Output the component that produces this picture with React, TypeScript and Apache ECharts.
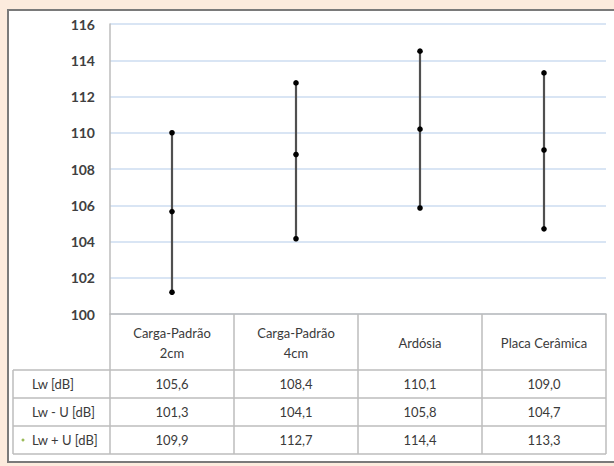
import React, { useEffect, useRef } from "react";
import * as echarts from "echarts";

const categories = ["Carga-Padrão\n2cm", "Carga-Padrão\n4cm", "Ardósia", "Placa Cerâmica"];
// plotted points
const lowPlot = [101.2, 104.15, 105.85, 104.7];
const midPlot = [105.65, 108.8, 110.2, 109.05];
const highPlot = [110.0, 112.75, 114.5, 113.3];
// data table
const rowLabels = ["Lw [dB]", "Lw - U [dB]", "Lw + U [dB]"];
const rowLw = ["105,6", "108,4", "110,1", "109,0"];
const rowLwMinusU = ["101,3", "104,1", "105,8", "104,7"];
const rowLwPlusU = ["109,9", "112,7", "114,4", "113,3"];
const yTicks = { min: 100, max: 116, interval: 2 };

const W = 614;
const H = 466;
const GRID_L = 110;
const GRID_R = 606;
const GRID_T = 24;
const GRID_B = 314;
const HEAD_B = 370;
const ROW_H = 28;
const TABLE_L = 13;
const FONT = "Lato, 'Open Sans', sans-serif";
const LINE = "#bcbcbc";
const TXT = "#3a3a3a";

export default function App() {
  const ref = useRef<HTMLDivElement>(null);
  useEffect(() => {
    if (!ref.current) return;
    const chart = echarts.init(ref.current, undefined, { renderer: "svg" });
    const band = (GRID_R - GRID_L) / categories.length;
    const rows = [rowLw, rowLwMinusU, rowLwPlusU];
    const graphics: any[] = [];
    // peach surroundings
    graphics.push({ type: "rect", shape: { x: 0, y: 0, width: W, height: 9 }, style: { fill: "#fcebdd" }, silent: true });
    graphics.push({ type: "rect", shape: { x: 0, y: 0, width: 7, height: H }, style: { fill: "#fcebdd" }, silent: true });
    graphics.push({ type: "rect", shape: { x: 0, y: 463, width: W, height: 3 }, style: { fill: "#fcebdd" }, silent: true });
    // frame
    graphics.push({ type: "line", shape: { x1: 8, y1: 10, x2: W, y2: 10 }, style: { stroke: "#7a7a7a", lineWidth: 2 }, silent: true });
    graphics.push({ type: "line", shape: { x1: 8, y1: 9, x2: 8, y2: 463 }, style: { stroke: "#7a7a7a", lineWidth: 2 }, silent: true });
    graphics.push({ type: "line", shape: { x1: 7, y1: 462, x2: W, y2: 462 }, style: { stroke: "#7a7a7a", lineWidth: 2 }, silent: true });
    // data table lines
    for (let r = 0; r <= rows.length; r++) {
      const y = HEAD_B + r * ROW_H;
      graphics.push({ type: "line", shape: { x1: TABLE_L, y1: y, x2: GRID_R, y2: y }, style: { stroke: LINE, lineWidth: 1.5 }, silent: true });
    }
    const xs = [TABLE_L];
    for (let c = 0; c <= categories.length; c++) xs.push(GRID_L + c * band);
    xs.forEach((x) => {
      graphics.push({ type: "line", shape: { x1: x, y1: HEAD_B, x2: x, y2: HEAD_B + rows.length * ROW_H }, style: { stroke: LINE, lineWidth: 1.5 }, silent: true });
    });
    rows.forEach((row, r) => {
      const cy = HEAD_B + r * ROW_H + ROW_H / 2;
      graphics.push({ type: "text", x: 32, y: cy, style: { text: rowLabels[r], font: `13px ${FONT}`, fill: TXT, textAlign: "left", textVerticalAlign: "middle" }, silent: true });
      row.forEach((v, c) => {
        graphics.push({ type: "text", x: GRID_L + (c + 0.5) * band, y: cy, style: { text: v, font: `13px ${FONT}`, fill: TXT, textAlign: "center", textVerticalAlign: "middle" }, silent: true });
      });
    });
    // legend key
    graphics.push({ type: "circle", shape: { cx: 23, cy: HEAD_B + 2.5 * ROW_H, r: 1.5 }, style: { fill: "#9bbb59" }, silent: true });

    const data = categories.map((_, i) => [i, lowPlot[i], midPlot[i], highPlot[i]]);

    chart.setOption({
      animation: false,
      backgroundColor: "#ffffff",
      grid: { left: GRID_L, right: W - GRID_R, top: GRID_T, bottom: H - GRID_B, containLabel: false },
      xAxis: {
        type: "category",
        data: categories,
        boundaryGap: true,
        axisLine: { show: true, lineStyle: { color: LINE, width: 1.5 } },
        axisTick: { show: true, interval: 0, length: HEAD_B - GRID_B, lineStyle: { color: LINE, width: 1.5 } },
        axisLabel: { interval: 0, margin: 29, verticalAlign: "middle", lineHeight: 20, fontSize: 13, fontFamily: FONT, color: TXT },
        splitLine: { show: false },
      },
      yAxis: {
        type: "value",
        min: yTicks.min,
        max: yTicks.max,
        interval: yTicks.interval,
        axisLine: { show: true, lineStyle: { color: LINE, width: 1.5 } },
        axisTick: { show: false },
        axisLabel: { margin: 15, fontSize: 14, fontFamily: FONT, color: "#404040", fontWeight: "bold" },
        splitLine: { show: true, lineStyle: { color: "#cddcf1", width: 1.5 } },
      },
      graphic: graphics,
      series: [
        {
          type: "custom",
          data,
          encode: { x: 0, y: [1, 2, 3] },
          renderItem: (params: any, api: any) => {
            const i = api.value(0);
            const pl = api.coord([i, api.value(1)]);
            const pm = api.coord([i, api.value(2)]);
            const ph = api.coord([i, api.value(3)]);
            return {
              type: "group",
              children: [
                { type: "line", shape: { x1: pl[0], y1: pl[1], x2: ph[0], y2: ph[1] }, style: { stroke: "#505050", lineWidth: 2.2 } },
                { type: "circle", shape: { cx: pl[0], cy: pl[1], r: 2.8 }, style: { fill: "#000" } },
                { type: "circle", shape: { cx: pm[0], cy: pm[1], r: 2.8 }, style: { fill: "#000" } },
                { type: "circle", shape: { cx: ph[0], cy: ph[1], r: 2.8 }, style: { fill: "#000" } },
              ],
            };
          },
        },
      ],
    });
    return () => chart.dispose();
  }, []);
  return <div ref={ref} style={{ position: "absolute", left: 0, top: 0, width: W, height: H }} />;
}
